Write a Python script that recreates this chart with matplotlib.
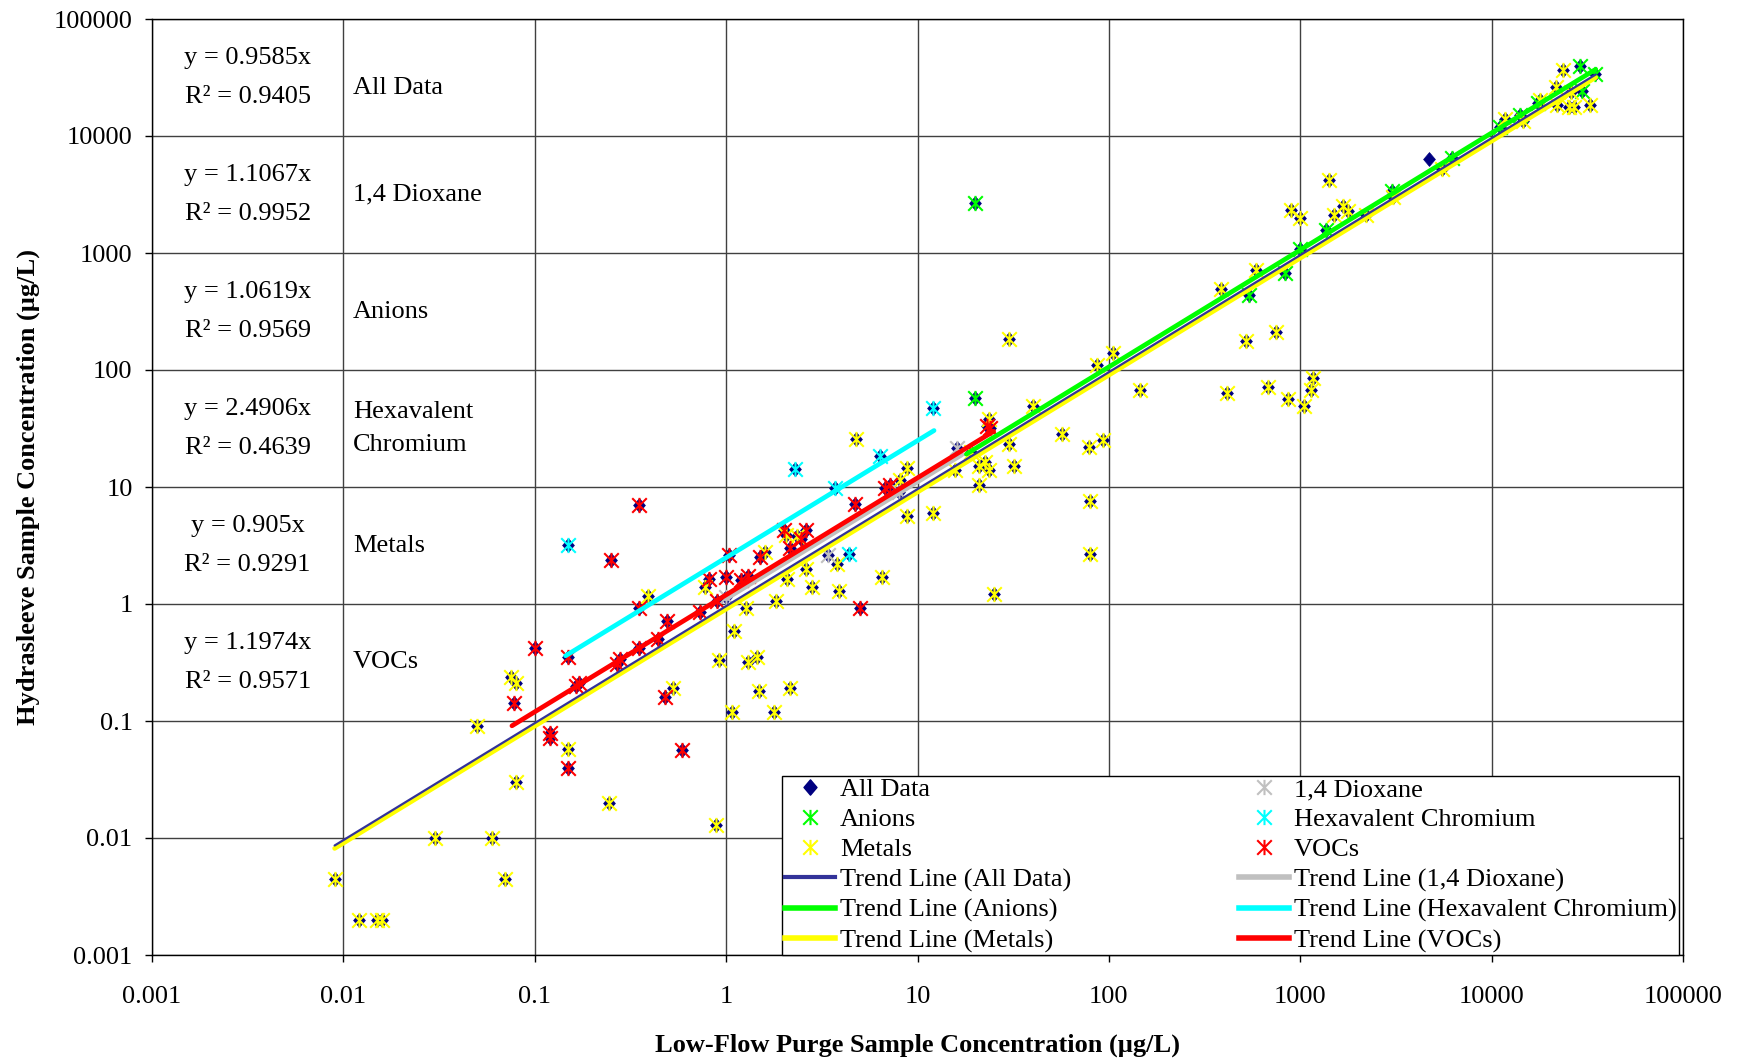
import numpy as np
import matplotlib
matplotlib.use('Agg')
import matplotlib.pyplot as plt
from matplotlib.path import Path
from matplotlib.lines import Line2D
from matplotlib.ticker import FixedLocator, FixedFormatter, NullLocator

plt.rcParams['font.family'] = ['Liberation Serif', 'DejaVu Serif']

# ---------------- data ----------------
metals_x = [0.009, 0.012, 0.015, 0.016, 0.030, 0.060, 0.070, 0.080, 0.050, 0.075, 0.080, 0.150,
            0.245, 0.53, 0.88, 0.92, 1.07, 1.1, 1.3, 1.45, 1.48, 1.78, 2.15, 1.27, 1.82, 2.07,
            0.39, 0.78, 1.6, 2.05, 2.35, 2.6, 2.8, 3.8, 3.9, 4.8, 6.5, 8.8, 8.8, 8.1, 12, 25,
            15.7, 19, 21, 21, 22.5, 23.5, 23.5, 30, 32, 40, 30, 57, 79, 93, 80, 80, 87, 105, 146,
            385, 413, 520, 590, 680, 750, 860, 1040, 1140, 1165, 900, 1000, 1420, 1500, 1670,
            1780, 2200, 3040, 5500, 11700, 14500, 17800, 21600, 23600, 22000, 25400, 27000,
            32700, 26000]
metals_y = [0.0045, 0.002, 0.002, 0.002, 0.010, 0.010, 0.0045, 0.030, 0.090, 0.24, 0.21, 0.058,
            0.020, 0.19, 0.013, 0.33, 0.12, 0.59, 0.32, 0.35, 0.18, 0.12, 0.19, 0.93, 1.06, 1.63,
            1.16, 1.4, 2.8, 3.9, 3.8, 2.0, 1.4, 2.2, 1.3, 25.5, 1.7, 5.7, 14.5, 11.5, 6.0, 1.22,
            14, 20, 10.5, 15, 16.5, 14, 38.5, 23.5, 15, 49, 184, 28.5, 22, 25, 7.6, 2.7, 110, 139, 67,
            490, 63, 176, 720, 72, 210, 56, 49, 68, 86, 2350, 2000, 4200, 2100, 2500,
            2300, 2100, 3010, 5200, 14100, 13500, 20400, 26100, 36600, 18400, 17800, 17600,
            18400, 24000]

vocs_x = [0.078, 0.1, 0.12, 0.12, 0.15, 0.15, 0.17, 0.165, 0.25, 0.27, 0.28, 0.35, 0.35, 0.35,
          0.44, 0.48, 0.49, 0.59, 0.73, 0.81, 0.9, 1.0, 1.04, 1.2, 1.3, 1.5, 2.0, 2.16, 2.45, 2.6,
          4.7, 5.0, 6.8, 7.2, 23, 24]
vocs_y = [0.143, 0.42, 0.079, 0.071, 0.35, 0.04, 0.21, 0.2, 2.4, 0.31, 0.34, 7.0, 0.42, 0.93,
          0.50, 0.16, 0.72, 0.056, 0.85, 1.63, 1.06, 1.7, 2.6, 1.6, 1.75, 2.5, 4.3, 3.0, 3.6, 4.3,
          7.1, 0.92, 9.8, 10.5, 33, 32]

anions_x = [20, 20, 540, 830, 1000, 1370, 3000, 6200, 11000, 14000, 17500, 29000, 34500, 29800]
anions_y = [2700, 58, 440, 680, 1090, 1580, 3400, 6500, 12000, 15000, 19000, 40000, 33800, 24300]

hexcr_x = [0.15, 2.3, 3.7, 4.4, 6.4, 12]
hexcr_y = [3.2, 14.2, 9.8, 2.7, 18.5, 47]

dioxane_x = [1.0, 3.4, 8.0, 16]
dioxane_y = [1.15, 2.6, 9.0, 21.5]

alldata_only_x = [4700]
alldata_only_y = [6400]

# trend lines: slope and x-range
trend_names = ['All Data', '1,4 Dioxane', 'Anions', 'Hexavalent Chromium', 'Metals', 'VOCs']
trend_slopes = [0.9585, 1.1067, 1.0619, 2.4906, 0.905, 1.1974]
trend_r2 = [0.9405, 0.9952, 0.9569, 0.4639, 0.9291, 0.9571]
trend_xmin = [0.009, 1.0, 18, 0.145, 0.009, 0.076]
trend_xmax = [35000, 17, 35000, 12.2, 35000, 25]

table_labels = ['All Data', '1,4 Dioxane', 'Anions', 'Hexavalent\nChromium', 'Metals', 'VOCs']

tick_values = [0.001, 0.01, 0.1, 1, 10, 100, 1000, 10000, 100000]
tick_labels = ['0.001', '0.01', '0.1', '1', '10', '100', '1000', '10000', '100000']

# ---------------- styles ----------------
NAVY = '#000080'
TREND_NAVY = '#333399'
col = {'Anions': '#00FF00', 'Metals': '#FFFF00', 'VOCs': '#FF0000',
       'Hexavalent Chromium': '#00FFFF', '1,4 Dioxane': '#C0C0C0'}

star = Path([(-1, -1), (1, 1), (-1, 1), (1, -1), (0, -1.05), (0, 1.05)],
            [Path.MOVETO, Path.LINETO] * 3)
diamond = Path([(0, 1), (0.85, 0), (0, -1), (-0.85, 0), (0, 1)],
               [Path.MOVETO, Path.LINETO, Path.LINETO, Path.LINETO, Path.CLOSEPOLY])
STAR_MS = 11
STAR_MEW = 1.5
DIA_MS = 10

fig = plt.figure(figsize=(17.38, 10.60), dpi=100)
ax = fig.add_axes([152 / 1738, 1 - 955 / 1060, 1531 / 1738, 936 / 1060])
ax.set_xscale('log')
ax.set_yscale('log')
ax.set_xlim(tick_values[0], tick_values[-1])
ax.set_ylim(tick_values[0], tick_values[-1])

for axis in (ax.xaxis, ax.yaxis):
    axis.set_major_locator(FixedLocator(tick_values))
    axis.set_major_formatter(FixedFormatter(tick_labels))
    axis.set_minor_locator(NullLocator())
ax.tick_params(axis='both', which='major', labelsize=19, direction='out', length=5,
               width=1, color='black')
ax.tick_params(axis='x', pad=17.5)
ax.tick_params(axis='y', pad=9)
ax.grid(True, which='major', color='#404040', linewidth=1.0)
ax.set_axisbelow(True)
for s in ax.spines.values():
    s.set_color('black')
    s.set_linewidth(1.0)

# All Data diamonds
all_x = metals_x + vocs_x + anions_x + hexcr_x + dioxane_x + alldata_only_x
all_y = metals_y + vocs_y + anions_y + hexcr_y + dioxane_y + alldata_only_y
ax.plot(all_x, all_y, ls='none', marker=diamond, ms=DIA_MS, mfc=NAVY, mec=NAVY, mew=0.5, zorder=3)

series = [('Anions', anions_x, anions_y), ('Metals', metals_x, metals_y),
          ('1,4 Dioxane', dioxane_x, dioxane_y), ('Hexavalent Chromium', hexcr_x, hexcr_y),
          ('VOCs', vocs_x, vocs_y)]
for name, xs, ys in series:
    ax.plot(xs, ys, ls='none', marker=star, ms=STAR_MS, mfc='none', mec=col[name],
            mew=STAR_MEW, zorder=4)

# trend lines
trend_col = {'All Data': TREND_NAVY}
trend_col.update(col)
trend_lw = {'All Data': 1.6}
draw_order = ['Metals', 'Anions', '1,4 Dioxane', 'VOCs', 'Hexavalent Chromium', 'All Data']
for name in draw_order:
    i = trend_names.index(name)
    xs = np.array([trend_xmin[i], trend_xmax[i]])
    ax.plot(xs, trend_slopes[i] * xs, color=trend_col[name], lw=trend_lw.get(name, 3.4),
            solid_capstyle='round', zorder=5)

# table text
for i, name in enumerate(trend_names):
    yc = 10 ** (4.5 - i)
    ax.text(10 ** -2.5, yc, 'y = %gx\nR² = %.4f' % (trend_slopes[i], trend_r2[i]),
            ha='center', va='center', fontsize=19, linespacing=1.95, zorder=6)
    ly = yc * (10 ** -0.09 if i == 0 else 1.0)
    ax.text(0.0112, ly, table_labels[i], ha='left', va='center', fontsize=19,
            linespacing=1.7, zorder=6)

ax.set_xlabel('Low-Flow Purge Sample Concentration (µg/L)', fontsize=19, fontweight='bold',
              labelpad=18.5)
ax.set_ylabel('Hydrasleeve Sample Concentration (µg/L)', fontsize=19, fontweight='bold',
              labelpad=10)

# legend
def mk(name):
    if name == 'All Data':
        return Line2D([], [], ls='none', marker=diamond, ms=DIA_MS + 1, mfc=NAVY, mec=NAVY)
    return Line2D([], [], ls='none', marker=star, ms=STAR_MS, mfc='none', mec=col[name],
                  mew=STAR_MEW)

def ln(name):
    return Line2D([], [], color=trend_col[name], lw=4.0 if name != 'All Data' else 3.0)

order = ['All Data', 'Anions', 'Metals', '1,4 Dioxane', 'Hexavalent Chromium', 'VOCs']
handles = [mk(n) for n in order[:3]] + [ln(n) for n in order[:3]] + \
          [mk(n) for n in order[3:]] + [ln(n) for n in order[3:]]
labels = order[:3] + ['Trend Line (%s)' % n for n in order[:3]] + \
         order[3:] + ['Trend Line (%s)' % n for n in order[3:]]
leg = ax.legend(handles, labels, ncol=2, loc='lower right', bbox_to_anchor=(0.9974, 0.0),
                fontsize=19, frameon=True, fancybox=False, framealpha=1, edgecolor='black',
                borderpad=0.08, labelspacing=0.25, handlelength=1.9, handletextpad=0.2,
                columnspacing=6.35, borderaxespad=0.0, numpoints=1)
leg.get_frame().set_linewidth(1.0)
leg.set_zorder(10)

fig.savefig('out.png', dpi=100, facecolor='white')
